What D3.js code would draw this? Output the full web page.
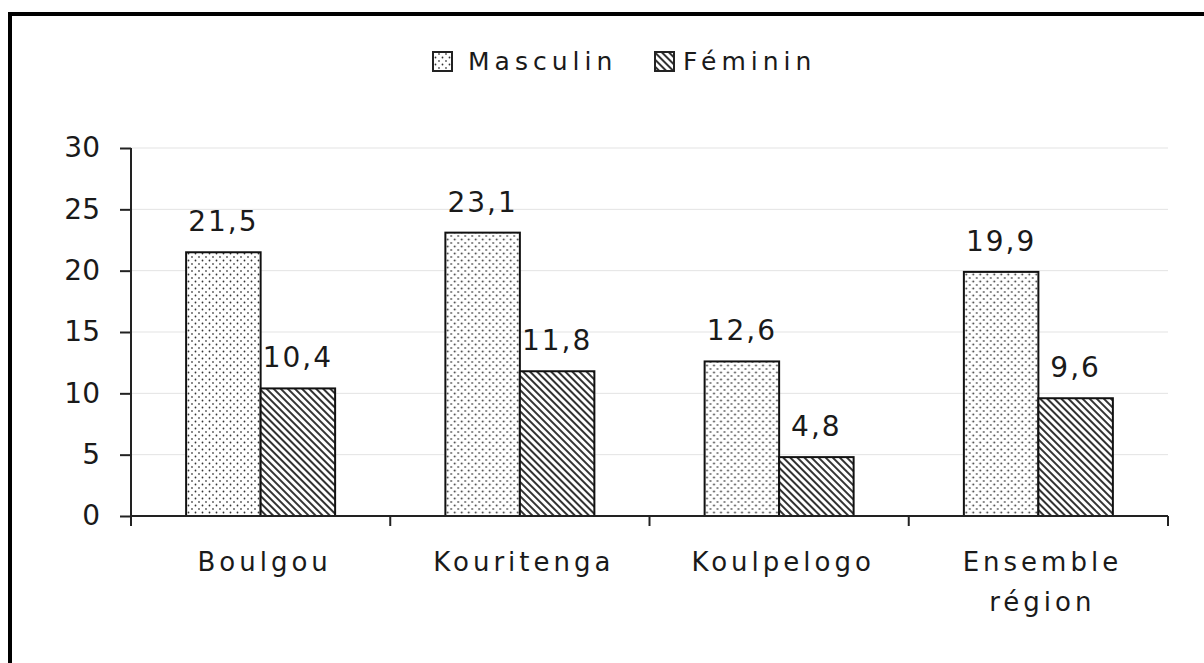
<!DOCTYPE html>
<html>
<head>
<meta charset="utf-8">
<script src="https://cdn.jsdelivr.net/npm/d3@7"></script>
<style>
  html, body { margin: 0; padding: 0; background: #fff; }
  #chart { width: 1204px; height: 663px; overflow: hidden; }
  text { font-family: "DejaVu Sans", sans-serif; fill: #1a1a1a; }
</style>
</head>
<body>
<div id="chart"></div>
<script>
// data
const categories = [['Boulgou'], ['Kouritenga'], ['Koulpelogo'], ['Ensemble', 'région']];
const seriesNames = ['Masculin', 'Féminin'];
const masculin = [21.5, 23.1, 12.6, 19.9];
const feminin = [10.4, 11.8, 4.8, 9.6];
const yTicks = [0, 5, 10, 15, 20, 25, 30];

const rows = categories.map((c, i) => ({ key: c.join(' '), lines: c, values: [masculin[i], feminin[i]] }));

const width = 1204, height = 663;
const plot = { left: 131, right: 1168, top: 148, bottom: 516 };

const svg = d3.select('#chart')
  .append('svg')
  .attr('width', width)
  .attr('height', height);

// motifs de remplissage
const defs = svg.append('defs');
const dots = defs.append('pattern')
  .attr('id', 'pat-dots')
  .attr('patternUnits', 'userSpaceOnUse')
  .attr('width', 7).attr('height', 7);
dots.append('rect').attr('width', 7).attr('height', 7).attr('fill', '#fff');
dots.append('circle').attr('cx', 1.5).attr('cy', 1.5).attr('r', 0.9).attr('fill', '#333');
dots.append('circle').attr('cx', 5).attr('cy', 5).attr('r', 0.9).attr('fill', '#555');

const hatch = defs.append('pattern')
  .attr('id', 'pat-hatch')
  .attr('patternUnits', 'userSpaceOnUse')
  .attr('width', 5).attr('height', 5)
  .attr('patternTransform', 'rotate(-45)');
hatch.append('rect').attr('width', 5).attr('height', 5).attr('fill', '#fff');
hatch.append('line')
  .attr('x1', 1).attr('y1', 0).attr('x2', 1).attr('y2', 5)
  .attr('stroke', '#333').attr('stroke-width', 2);

const fills = ['url(#pat-dots)', 'url(#pat-hatch)'];

// cadre
svg.append('rect')
  .attr('x', 10).attr('y', 14)
  .attr('width', width + 20).attr('height', height + 20)
  .attr('fill', 'none')
  .attr('stroke', '#000')
  .attr('stroke-width', 4);

// échelles
const x0 = d3.scaleBand()
  .domain(rows.map(d => d.key))
  .range([plot.left, plot.right])
  .padding(0);

const x1 = d3.scaleBand()
  .domain(seriesNames)
  .range([0, x0.bandwidth()])
  .paddingInner(0)
  .paddingOuter(0.74);

const y = d3.scaleLinear()
  .domain([0, 30])
  .range([plot.bottom, plot.top]);

// grille horizontale
svg.append('g')
  .selectAll('line')
  .data(yTicks.filter(t => t > 0))
  .enter().append('line')
  .attr('x1', plot.left).attr('x2', plot.right)
  .attr('y1', d => y(d)).attr('y2', d => y(d))
  .attr('stroke', '#e3e3e3')
  .attr('stroke-width', 1);

// axe Y
const yAxis = svg.append('g')
  .attr('transform', `translate(${plot.left},0)`)
  .call(d3.axisLeft(y).tickValues(yTicks).tickSize(11).tickPadding(20).tickFormat(d3.format('d')));
yAxis.select('.domain').remove();
yAxis.selectAll('.tick line').attr('stroke', '#222').attr('stroke-width', 2);
yAxis.selectAll('text')
  .style('font-size', '28px')
  .attr('fill', '#1a1a1a');

svg.append('line')
  .attr('x1', plot.left).attr('x2', plot.left)
  .attr('y1', y(30)).attr('y2', plot.bottom + 9)
  .attr('stroke', '#222').attr('stroke-width', 2);

// barres
const groups = svg.append('g')
  .selectAll('g')
  .data(rows)
  .enter().append('g')
  .attr('transform', d => `translate(${x0(d.key)},0)`);

groups.selectAll('rect')
  .data(d => d.values.map((v, i) => ({ name: seriesNames[i], value: v, i })))
  .enter().append('rect')
  .attr('x', d => x1(d.name))
  .attr('y', d => y(d.value))
  .attr('width', x1.bandwidth())
  .attr('height', d => y(0) - y(d.value))
  .attr('fill', d => fills[d.i])
  .attr('stroke', '#111')
  .attr('stroke-width', 2);

// étiquettes de valeurs
groups.selectAll('text.val')
  .data(d => d.values.map((v, i) => ({ name: seriesNames[i], value: v })))
  .enter().append('text')
  .attr('class', 'val')
  .attr('x', d => x1(d.name) + x1.bandwidth() / 2)
  .attr('y', d => y(d.value) - 21)
  .attr('text-anchor', 'middle')
  .style('font-size', '28px')
  .style('letter-spacing', '2px')
  .text(d => d3.format('.1f')(d.value).replace('.', ','));

// axe X
svg.append('line')
  .attr('x1', plot.left).attr('x2', plot.right)
  .attr('y1', plot.bottom).attr('y2', plot.bottom)
  .attr('stroke', '#222').attr('stroke-width', 2);

const bounds = rows.map(d => x0(d.key)).concat([plot.right]);
svg.append('g')
  .selectAll('line')
  .data(bounds)
  .enter().append('line')
  .attr('x1', d => d).attr('x2', d => d)
  .attr('y1', plot.bottom).attr('y2', plot.bottom + 10)
  .attr('stroke', '#222').attr('stroke-width', 2);

// libellés des catégories
const catLabels = svg.append('g')
  .selectAll('text')
  .data(rows)
  .enter().append('text')
  .attr('x', d => x0(d.key) + x0.bandwidth() / 2 + 4)
  .attr('y', 571)
  .attr('text-anchor', 'middle')
  .style('font-size', '26px')
  .style('letter-spacing', '4px');

catLabels.selectAll('tspan')
  .data(d => d.lines)
  .enter().append('tspan')
  .attr('x', function() { return d3.select(this.parentNode).attr('x'); })
  .attr('dy', (d, i) => i === 0 ? 0 : 40)
  .text(d => d);

// légende
const legendX = [433, 655];
const legend = svg.append('g');
legend.selectAll('rect')
  .data(seriesNames)
  .enter().append('rect')
  .attr('x', (d, i) => legendX[i])
  .attr('y', 52)
  .attr('width', 19).attr('height', 19)
  .attr('fill', (d, i) => fills[i])
  .attr('stroke', '#222')
  .attr('stroke-width', 2);

legend.selectAll('text')
  .data(seriesNames)
  .enter().append('text')
  .attr('x', (d, i) => legendX[i] + (i === 0 ? 35 : 28))
  .attr('y', 70)
  .style('font-size', '25px')
  .style('letter-spacing', '5px')
  .text(d => d);
</script>
</body>
</html>
